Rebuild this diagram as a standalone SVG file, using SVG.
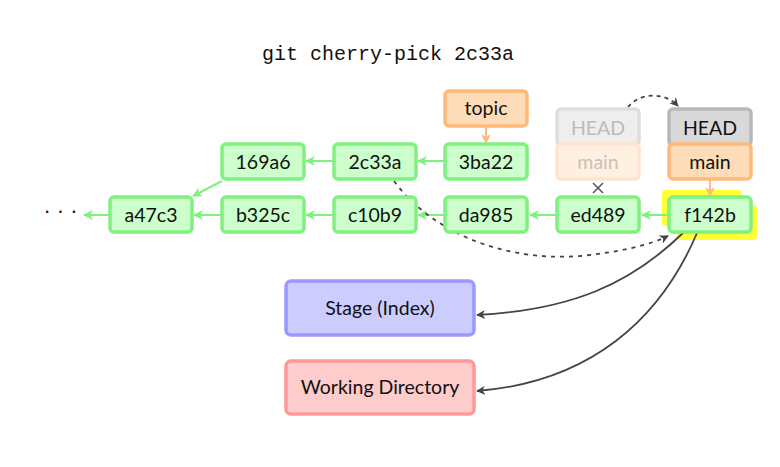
<svg xmlns="http://www.w3.org/2000/svg" width="780" height="467" viewBox="0 0 780 467">
<defs>
<style>
.n rect{stroke-width:3.5}
.c rect{fill:#ccffcc;stroke:#80f080}
.o rect{fill:#ffdcb8;stroke:#ffba7a}
.t{font-family:Lato,"Open Sans","DejaVu Sans",sans-serif;font-size:19.5px;fill:#111;text-anchor:middle;dominant-baseline:central}
.g{stroke:#80f080;stroke-width:2;fill:none;marker-end:url(#ag)}
.k{stroke:#444;stroke-width:1.8;fill:none}
</style>
<marker id="ag" viewBox="0 0 10 10" refX="9" refY="5" markerWidth="5" markerHeight="5" orient="auto"><path d="M0,0 L10,5 L0,10 L3,5 Z" fill="#80f080"/></marker>
<marker id="ao" viewBox="0 0 10 10" refX="9" refY="5" markerWidth="5" markerHeight="5" orient="auto"><path d="M0,0 L10,5 L0,10 L3,5 Z" fill="#ffba7a"/></marker>
<marker id="ak" viewBox="0 0 10 10" refX="9" refY="5" markerWidth="5" markerHeight="5" orient="auto"><path d="M0,0 L10,5 L0,10 L3,5 Z" fill="#444"/></marker>
</defs>
<rect width="780" height="467" fill="#fff"/>
<text x="388" y="54" text-anchor="middle" dominant-baseline="central" font-family="'Liberation Mono',monospace" font-size="20" fill="#111">git cherry-pick 2c33a</text>
<text x="64" y="212" text-anchor="middle" dominant-baseline="central" font-family="'DejaVu Sans',sans-serif" font-size="20" fill="#111" letter-spacing="7">···</text>

<g id="highlight">
<rect x="662" y="190" width="80" height="36" rx="4" fill="#ffff33"/>
<rect x="677" y="205" width="80" height="35" rx="4" fill="#ffff33"/>
</g>

<g id="connectors">
<path class="g" d="M110,215 L84,215"/>
<path class="g" d="M222,215 L194,215"/>
<path class="g" d="M334,215 L306,215"/>
<path class="g" d="M445,215 L418,215"/>
<path class="g" d="M557,215 L530,215"/>
<path class="g" d="M669,215 L642,215"/>
<path class="g" d="M334,161 L306,161"/>
<path class="g" d="M445,161 L418,161"/>
<path class="g" d="M222,181 L193,196"/>
<path d="M486,127 L486,143" stroke="#ffba7a" stroke-width="2" fill="none" marker-end="url(#ao)"/>
<path d="M710,180 L710,196" stroke="#ffba7a" stroke-width="2" fill="none" marker-end="url(#ao)"/>
<path d="M593,183 L603,193 M603,183 L593,193" stroke="#555" stroke-width="1.5"/>
<path class="k" d="M628,107 C640,92 665,92 678,106" stroke-dasharray="4,4" marker-end="url(#ak)"/>
<path class="k" d="M394,181 C430,230 500,262 580,256 C620,252 650,245 668,236" stroke-dasharray="4,5" marker-end="url(#ak)"/>
<path class="k" d="M684,232 C630,285 570,310 477,315" marker-end="url(#ak)"/>
<path class="k" d="M697,233 C660,320 590,382 477,391" marker-end="url(#ak)"/>
</g>

<g id="a47c3" class="n c"><rect x="110" y="197" width="82" height="35" rx="4"/><text class="t" x="151" y="214">a47c3</text></g>
<g id="b325c" class="n c"><rect x="222" y="197" width="82" height="35" rx="4"/><text class="t" x="263" y="214">b325c</text></g>
<g id="c10b9" class="n c"><rect x="334" y="197" width="82" height="35" rx="4"/><text class="t" x="375" y="214">c10b9</text></g>
<g id="da985" class="n c"><rect x="445" y="197" width="82" height="35" rx="4"/><text class="t" x="486" y="214">da985</text></g>
<g id="ed489" class="n c"><rect x="557" y="197" width="82" height="35" rx="4"/><text class="t" x="598" y="214">ed489</text></g>
<g id="f142b" class="n c"><rect x="669" y="197" width="82" height="35" rx="4"/><text class="t" x="710" y="214">f142b</text></g>
<g id="169a6" class="n c"><rect x="222" y="144" width="82" height="35" rx="4"/><text class="t" x="263" y="161">169a6</text></g>
<g id="2c33a" class="n c"><rect x="334" y="144" width="82" height="35" rx="4"/><text class="t" x="375" y="161">2c33a</text></g>
<g id="3ba22" class="n c"><rect x="445" y="144" width="82" height="35" rx="4"/><text class="t" x="486" y="161">3ba22</text></g>
<g id="topic" class="n o"><rect x="445" y="91" width="82" height="35" rx="4"/><text class="t" x="486" y="107">topic</text></g>

<g id="head-old" class="n"><rect x="557" y="109" width="82" height="36" rx="4" fill="#eeeeee" stroke="#dedede"/><text class="t" x="598" y="127" style="fill:#bbb">HEAD</text></g>
<g id="main-old" class="n"><rect x="557" y="144" width="82" height="35" rx="4" fill="#fff0e2" stroke="#ffe3cc"/><text class="t" x="598" y="161" style="fill:#c9c0b8">main</text></g>
<g id="head" class="n"><rect x="669" y="109" width="82" height="36" rx="4" fill="#d9d9d9" stroke="#b8b8b8"/><text class="t" x="710" y="127">HEAD</text></g>
<g id="main" class="n o"><rect x="669" y="144" width="82" height="35" rx="4"/><text class="t" x="710" y="161">main</text></g>

<g id="stage" class="n"><rect x="286" y="281" width="188" height="54" rx="5" fill="#ccccff" stroke="#9999ff"/><text class="t" x="380" y="307">Stage (Index)</text></g>
<g id="workdir" class="n"><rect x="286" y="361" width="188" height="53" rx="5" fill="#ffcccc" stroke="#ff9999"/><text class="t" x="380" y="386">Working Directory</text></g>
</svg>
